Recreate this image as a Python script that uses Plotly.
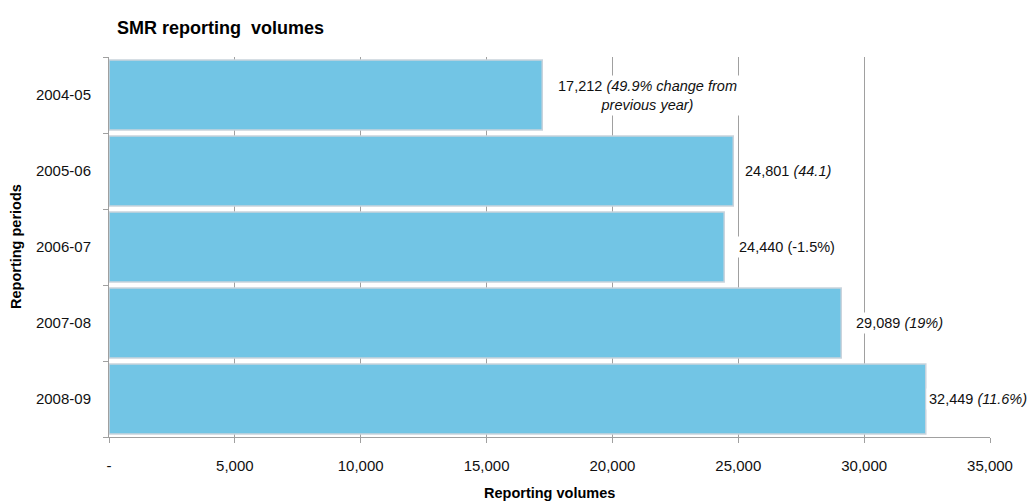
import plotly.graph_objects as go

periods = ["2004-05", "2005-06", "2006-07", "2007-08", "2008-09"]
volumes = [17212, 24801, 24440, 29089, 32449]
value_text = ["17,212", "24,801", "24,440", "29,089", "32,449"]
change_text = ["(49.9% change from<br>previous year)", "(44.1)", "(-1.5%)", "(19%)", "(11.6%)"]
change_italic = [True, True, False, True, True]
x_ticks = [0, 5000, 10000, 15000, 20000, 25000, 30000, 35000]
x_tick_labels = ["-", "5,000", "10,000", "15,000", "20,000", "25,000", "30,000", "35,000"]

# label offsets (pixels) from bar end
label_shift = [13, 9, 12, 12, 0]

FONT = "Liberation Sans, Arial, sans-serif"
idx = list(range(len(periods)))

# page body has an 8px margin; compensate
W, H = 1027, 495

fig = go.Figure()
fig.add_trace(go.Bar(
    x=volumes, y=idx, orientation="h", width=0.92,
    marker=dict(color="#72C5E5", line=dict(color="#C9D3DC", width=1.5)),
    hoverinfo="skip", showlegend=False,
))

annotations = []
for i, (v, vt, ct, it) in enumerate(zip(volumes, value_text, change_text, change_italic)):
    txt = f"{vt} <i>{ct}</i>" if it else f"{vt} {ct}"
    annotations.append(dict(
        x=v, y=i, xref="x", yref="y", text=txt, showarrow=False,
        xanchor="left", yanchor="middle", align="center",
        xshift=label_shift[i], bgcolor="white", borderpad=2,
        font=dict(family=FONT, size=14.5, color="#111111"),
    ))

annotations.append(dict(
    x=0.5, y=0, xref="paper", yref="paper", text="<b>Reporting volumes</b>",
    showarrow=False, xanchor="center", yanchor="middle", yshift=-56,
    font=dict(family=FONT, size=14.5, color="#000000"),
))
annotations.append(dict(
    x=0, y=0.5, xref="paper", yref="paper", text="<b>Reporting periods</b>",
    showarrow=False, xanchor="center", yanchor="middle", xshift=-93, textangle=-90,
    font=dict(family=FONT, size=14.5, color="#000000"),
))

fig.update_layout(
    width=W, height=H,
    margin=dict(l=101, r=45, t=49, b=66),
    paper_bgcolor="white", plot_bgcolor="white",
    font=dict(family=FONT, size=15, color="#111111"),
    title=dict(text="<b>SMR reporting  volumes</b>", x=109 / W, xanchor="left",
               xref="container", y=1 - 20 / H, yanchor="middle", yref="container",
               font=dict(family=FONT, size=18, color="#000000")),
    annotations=annotations,
    bargap=0.08,
)
fig.update_xaxes(
    range=[0, 35000], tickvals=x_ticks, ticktext=x_tick_labels,
    showgrid=True, gridcolor="#A0A0A0", gridwidth=1,
    showline=True, linecolor="#A0A0A0", linewidth=1,
    ticks="outside", ticklen=5, tickcolor="#A0A0A0",
    ticklabelstandoff=10, zeroline=False,
    tickfont=dict(family=FONT, size=15, color="#111111"),
)
fig.update_yaxes(
    range=[4.5, -0.5], tickvals=idx, ticktext=periods,
    showgrid=False, zeroline=False,
    showline=True, linecolor="#A0A0A0", linewidth=1,
    ticks="", ticklabelstandoff=14,
    minor=dict(ticks="outside", tick0=0.5, dtick=1, ticklen=5, tickcolor="#A0A0A0", showgrid=False),
    tickfont=dict(family=FONT, size=15, color="#111111"),
)

fig.write_html("out.html")
